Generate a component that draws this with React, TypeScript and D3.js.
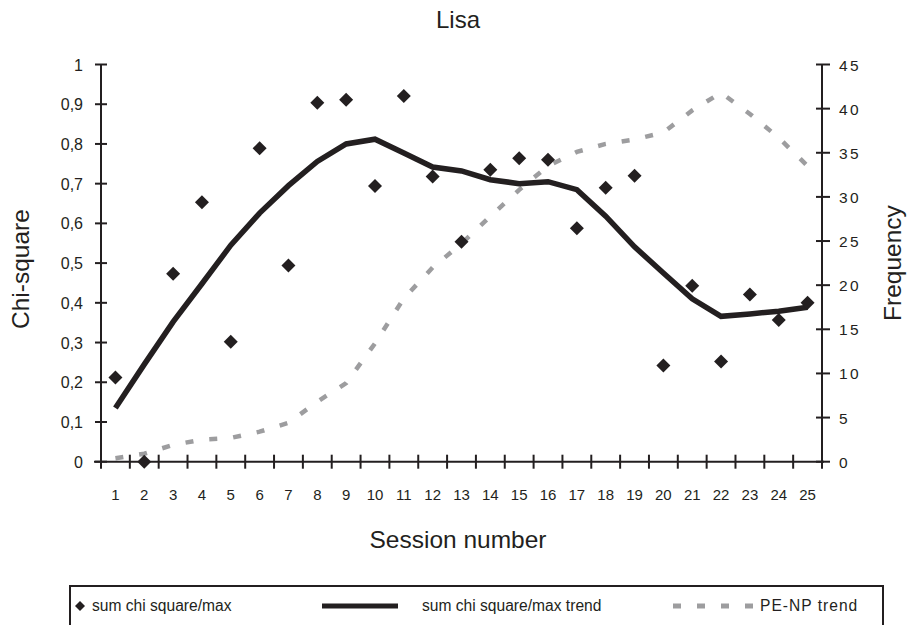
import React from 'react';
import * as d3 from 'd3';

const sessions = ['1','2','3','4','5','6','7','8','9','10','11','12','13','14','15','16','17','18','19','20','21','22','23','24','25'];
const chiValues = [0.212, 0.0, 0.473, 0.653, 0.302, 0.789, 0.494, 0.904, 0.911, 0.694, 0.921, 0.718, 0.554, 0.735, 0.764, 0.76, 0.588, 0.69, 0.72, 0.242, 0.443, 0.252, 0.421, 0.357, 0.40];
const chiTrend = [0.135, 0.245, 0.352, 0.448, 0.545, 0.626, 0.695, 0.756, 0.80, 0.812, 0.777, 0.742, 0.732, 0.71, 0.70, 0.705, 0.685, 0.618, 0.541, 0.475, 0.41, 0.366, 0.372, 0.379, 0.389];
const peNpTrend = [0.4, 0.9, 1.9, 2.5, 2.7, 3.4, 4.4, 6.8, 8.9, 13.4, 18.5, 22.0, 24.7, 27.8, 30.8, 33.5, 35.1, 36.0, 36.5, 37.3, 39.8, 41.8, 39.4, 36.7, 33.5];
const leftTicks = [0, 0.1, 0.2, 0.3, 0.4, 0.5, 0.6, 0.7, 0.8, 0.9, 1];
const rightTicks = [0, 5, 10, 15, 20, 25, 30, 35, 40, 45];
const legendLabels = ['sum chi square/max', 'sum chi square/max trend', 'PE-NP trend'];

const W = 911, H = 625;
const L = 101, R = 822, T = 64.5, B = 461.7;
const INK = '#231f20';
const GRAY = '#9d9d9f';
const FONT = '"Liberation Sans", Arial, sans-serif';

export default function App() {
  const x = d3.scaleBand<string>().domain(sessions).range([L, R]).padding(0);
  const cx = (s: string) => (x(s) as number) + x.bandwidth() / 2;
  const yL = d3.scaleLinear().domain([0, 1]).range([B, T]);
  const yR = d3.scaleLinear().domain([0, 45]).range([B, T]);

  const trendLine = d3.line<number>().x((_, i) => cx(sessions[i])).y(d => yL(d));
  const peLine = d3.line<number>().x((_, i) => cx(sessions[i])).y(d => yR(d));
  const diamond = (px: number, py: number, r: number) =>
    `M${px},${py - r}L${px + r},${py}L${px},${py + r}L${px - r},${py}Z`;

  const fmt = (v: number) => (v === 0 || v === 1 ? String(v) : v.toFixed(1).replace('.', ','));
  const boundaries = [...sessions.map(s => x(s) as number), R];

  return (
    <svg width={W} height={H} style={{ position: 'absolute', left: 0, top: 0, background: '#fff' }} fontFamily={FONT}>
      <rect x={0} y={0} width={W} height={H} fill="#fff" />
      {/* title */}
      <text x={458} y={28} textAnchor="middle" fontSize={24} fill={INK}>Lisa</text>

      {/* PE-NP trend */}
      <path d={peLine(peNpTrend) || ''} fill="none" stroke={GRAY} strokeWidth={4.5} strokeDasharray="8,16" />
      {/* chi trend */}
      <path d={trendLine(chiTrend) || ''} fill="none" stroke={INK} strokeWidth={5.5} strokeLinejoin="miter" />
      {/* diamonds */}
      {chiValues.map((v, i) => (
        <path key={i} d={diamond(cx(sessions[i]), yL(v), 7)} fill={INK} />
      ))}

      {/* left axis */}
      <line x1={L} x2={L} y1={T} y2={B} stroke={INK} strokeWidth={2} />
      {leftTicks.map(t => (
        <g key={t}>
          <line x1={L - 6} x2={L + 6} y1={yL(t)} y2={yL(t)} stroke={INK} strokeWidth={2} />
          <text x={83} y={yL(t) + 6} textAnchor="end" fontSize={16} fill={INK}>{fmt(t)}</text>
        </g>
      ))}
      {/* right axis */}
      <line x1={R} x2={R} y1={T} y2={B} stroke={INK} strokeWidth={2} />
      {rightTicks.map(t => (
        <g key={t}>
          <line x1={R - 6} x2={R + 8} y1={yR(t)} y2={yR(t)} stroke={INK} strokeWidth={2} />
          <text x={839} y={yR(t) + 6} textAnchor="start" fontSize={15.5} letterSpacing={2.5} fill={INK}>{t}</text>
        </g>
      ))}
      {/* x axis */}
      <line x1={L - 7} x2={R + 2} y1={B} y2={B} stroke={INK} strokeWidth={2} />
      {boundaries.map((b, i) => (
        <line key={i} x1={b} x2={b} y1={B - 7} y2={B + 7} stroke={INK} strokeWidth={2} />
      ))}
      {sessions.map(s => (
        <text key={s} x={cx(s)} y={500} textAnchor="middle" fontSize={15} fill={INK}>{s}</text>
      ))}

      {/* axis titles */}
      <text x={458} y={548} textAnchor="middle" fontSize={24.5} fill={INK}>Session number</text>
      <text transform={`translate(29,${(T + B) / 2 + 6}) rotate(-90)`} textAnchor="middle" fontSize={24.5} fill={INK}>Chi-square</text>
      <text transform={`translate(901,${(T + B) / 2}) rotate(-90)`} textAnchor="middle" fontSize={24.5} fill={INK}>Frequency</text>

      {/* legend */}
      <rect x={70} y={586} width={813} height={80} fill="none" stroke={INK} strokeWidth={2} />
      <path d={diamond(80, 606, 5)} fill={INK} />
      <text x={92} y={611} fontSize={15.6} fill={INK}>{legendLabels[0]}</text>
      <line x1={322} x2={398} y1={606} y2={606} stroke={INK} strokeWidth={5} />
      <text x={422} y={611} fontSize={15.6} fill={INK}>{legendLabels[1]}</text>
      <line x1={673} x2={755} y1={606} y2={606} stroke={GRAY} strokeWidth={5} strokeDasharray="8,16" />
      <text x={760} y={611} fontSize={15.6} letterSpacing={1} fill={INK}>{legendLabels[2]}</text>
    </svg>
  );
}
